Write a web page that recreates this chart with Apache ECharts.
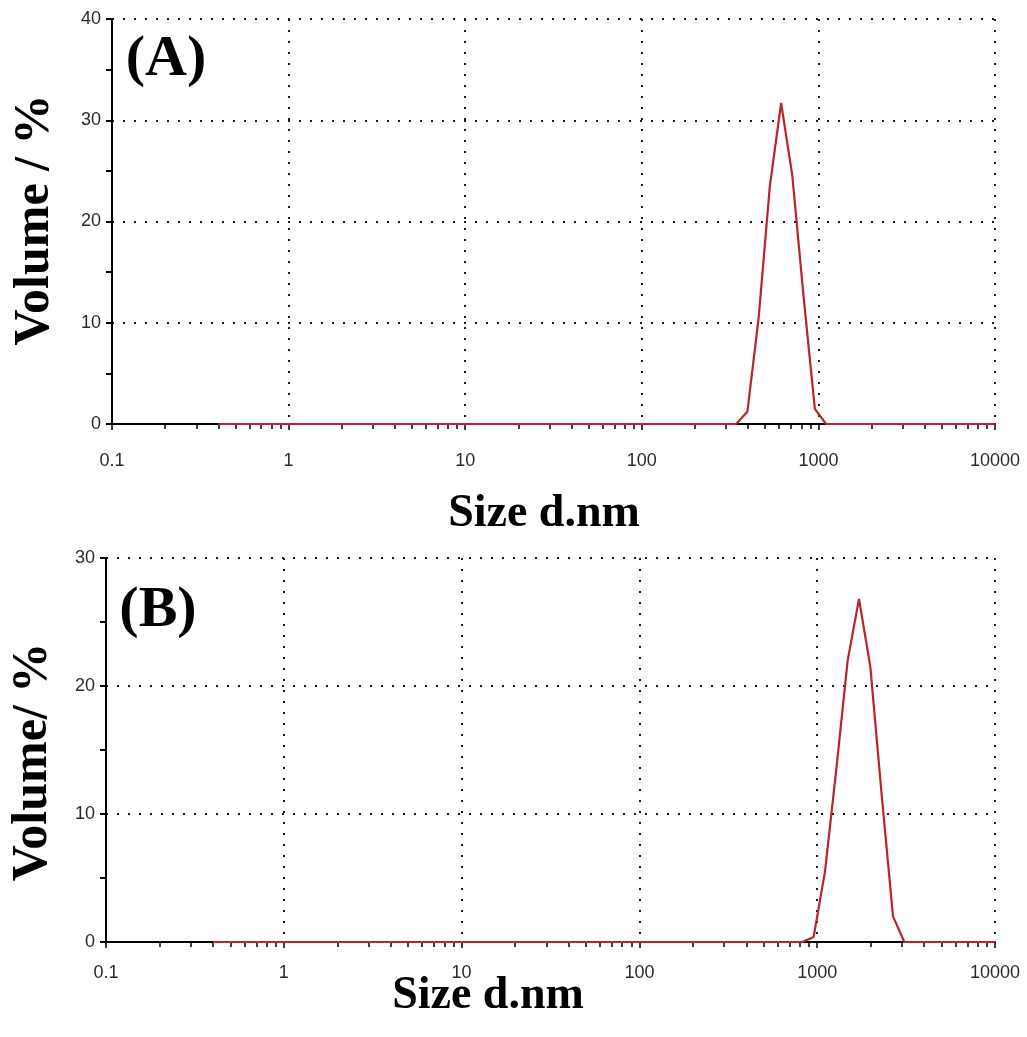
<!DOCTYPE html>
<html>
<head>
<meta charset="utf-8">
<script src="https://cdn.jsdelivr.net/npm/echarts@6/dist/echarts.min.js"></script>
<style>
html,body{margin:0;padding:0;background:#fff;}
#main{width:1027px;height:1037px;}
</style>
</head>
<body>
<div id="main"></div>
<script>
// ---- data ----
const sizeA = [0.4, 342, 396, 459, 531, 615, 712, 825, 955, 1106, 10000];
const volumeA = [0, 0, 1.2, 10.5, 23.5, 31.7, 24.5, 12.5, 1.5, 0, 0];
const sizeB = [0.4, 825, 955, 1106, 1281, 1484, 1718, 1990, 2305, 2669, 3091, 10000];
const volumeB = [0, 0, 0.4, 5.5, 13.5, 22, 26.8, 21.5, 11.5, 2, 0, 0];
const xMinorTickValues = [0.2, 0.3, 0.4, 0.5, 0.6, 0.7, 0.8, 0.9,
  2, 3, 4, 5, 6, 7, 8, 9,
  20, 30, 40, 50, 60, 70, 80, 90,
  200, 300, 400, 500, 600, 700, 800, 900,
  2000, 3000, 4000, 5000, 6000, 7000, 8000, 9000];
const xLabels = ['0.1', '1', '10', '100', '1000', '10000'];
const yTitleA = 'Volume / %';
const yTitleB = 'Volume/ %';
const xTitle = 'Size d.nm';
const panelA = '(A)';
const panelB = '(B)';

const chart = echarts.init(document.getElementById('main'), null, {renderer: 'canvas'});
const red = '#b8252b';
const dotted = {color: '#1a1a1a', width: 2, type: [2, 9]};
const labelColor = '#2b2b2b';

function xAxisMain(gi, margin) {
  return {
    gridIndex: gi, type: 'log', logBase: 10, min: 0.1, max: 10000, interval: 1,
    axisLine: {show: true, onZero: false, lineStyle: {color: '#000', width: 2}},
    axisTick: {show: true, length: 6, lineStyle: {color: '#000', width: 1.5}},
    axisLabel: {margin: margin, color: labelColor, fontFamily: 'Liberation Sans', fontSize: 18,
      formatter: (v, i) => xLabels[i] !== undefined ? xLabels[i] : String(v)},
    splitLine: {show: true, lineStyle: dotted}
  };
}
function xAxisMinor(gi) {
  return {
    gridIndex: gi, type: 'log', logBase: 10, min: 0.1, max: 10000, position: 'bottom',
    axisLine: {show: false},
    axisTick: {show: true, customValues: xMinorTickValues, length: 5, lineStyle: {color: '#000', width: 1.5}},
    axisLabel: {show: false},
    splitLine: {show: false}
  };
}
function yAxis(gi, max) {
  return {
    gridIndex: gi, type: 'value', min: 0, max: max, interval: 10,
    axisLine: {show: true, lineStyle: {color: '#000', width: 2}},
    axisTick: {show: true, length: 6, lineStyle: {color: '#000', width: 2}},
    minorTick: {show: true, splitNumber: 2, length: 6, lineStyle: {color: '#000', width: 2}},
    axisLabel: {margin: 11, color: labelColor, fontFamily: 'Liberation Sans', fontSize: 18},
    splitLine: {show: true, lineStyle: dotted}
  };
}
const titleFont = 'Liberation Serif';
chart.setOption({
  animation: false,
  backgroundColor: '#fff',
  grid: [
    {left: 112, top: 19, width: 883, height: 405},
    {left: 106, top: 558, width: 889, height: 384}
  ],
  xAxis: [xAxisMain(0, 28), xAxisMain(1, 22), xAxisMinor(0), xAxisMinor(1)],
  yAxis: [yAxis(0, 40), yAxis(1, 30)],
  series: [
    {type: 'line', xAxisIndex: 0, yAxisIndex: 0, showSymbol: false, symbol: 'none', z: 5,
      lineStyle: {color: red, width: 2.2}, data: sizeA.map((s, i) => [s, volumeA[i]])},
    {type: 'line', xAxisIndex: 1, yAxisIndex: 1, showSymbol: false, symbol: 'none', z: 5,
      lineStyle: {color: red, width: 2.2}, data: sizeB.map((s, i) => [s, volumeB[i]])}
  ],
  graphic: [
    {type: 'text', x: 35, y: 220, rotation: Math.PI / 2,
      style: {text: yTitleA, font: 'bold 50px "' + titleFont + '"', fill: '#000', align: 'center', verticalAlign: 'middle'}},
    {type: 'text', x: 33, y: 762, rotation: Math.PI / 2,
      style: {text: yTitleB, font: 'bold 50px "' + titleFont + '"', fill: '#000', align: 'center', verticalAlign: 'middle'}},
    {type: 'text', x: 544, y: 514,
      style: {text: xTitle, font: 'bold 46px "' + titleFont + '"', fill: '#000', align: 'center', verticalAlign: 'middle'}},
    {type: 'rect', shape: {x: 0, y: 977, width: 1027, height: 60}, style: {fill: '#fff'}},
    {type: 'text', x: 488, y: 996,
      style: {text: xTitle, font: 'bold 46px "' + titleFont + '"', fill: '#000', align: 'center', verticalAlign: 'middle'}},
    {type: 'text', x: 166, y: 60,
      style: {text: panelA, font: 'bold 58px "' + titleFont + '"', fill: '#000', align: 'center', verticalAlign: 'middle'}},
    {type: 'text', x: 158, y: 611,
      style: {text: panelB, font: 'bold 58px "' + titleFont + '"', fill: '#000', align: 'center', verticalAlign: 'middle'}}
  ]
});
</script>
</body>
</html>
